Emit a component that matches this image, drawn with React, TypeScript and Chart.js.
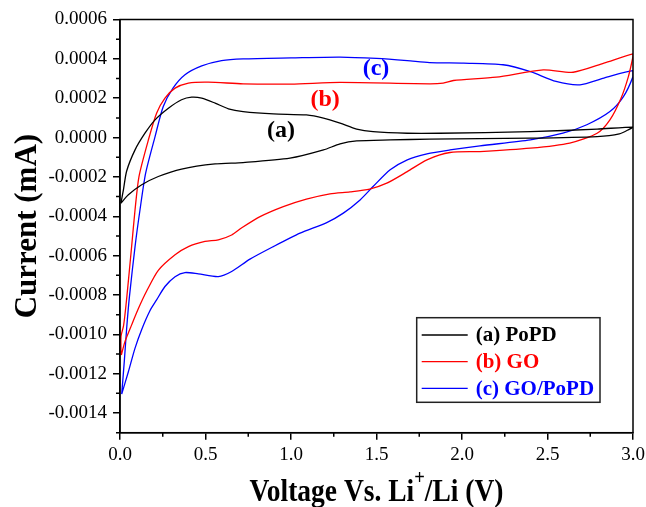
import React, { useEffect, useRef } from 'react';
import { Chart, registerables } from 'chart.js';

Chart.register(...registerables);

// (a) PoPD – closed CV loop (anodic sweep then return)
const popdV = [0.005, 0.02, 0.039, 0.088, 0.146, 0.205, 0.283, 0.36, 0.419, 0.478, 0.556, 0.634, 0.72, 0.897, 1.09, 1.19, 1.287, 1.384, 1.48, 1.68, 1.87, 2.4, 2.79, 3.0,
  2.98, 2.92, 2.79, 2.4, 1.81, 1.58, 1.384, 1.287, 1.19, 0.994, 0.72, 0.556, 0.36, 0.224, 0.127, 0.049, 0.005];
const popdI = [-0.000334, -0.000266, -0.00017, -0.0000625, 0.000022, 0.00009, 0.000149, 0.000192, 0.000205, 0.0002, 0.000175, 0.000146, 0.000132, 0.00012, 0.000115, 0.000099, 0.000073, 0.000043, 0.00003, 0.000022, 0.000022, 0.00003, 0.000043, 0.000053,
  0.000043, 0.000019, 0.000005, -0.000003, -0.000008, -0.000012, -0.000017, -0.000032, -0.000063, -0.000105, -0.000127, -0.000134, -0.00016, -0.000198, -0.00024, -0.000291, -0.000334];

// (b) GO
const goV = [0.006, 0.006, 0.02, 0.029, 0.04, 0.068, 0.088, 0.111, 0.166, 0.214, 0.263, 0.322, 0.4, 0.516, 0.72, 1.0, 1.287, 1.81, 1.89, 1.95, 2.2, 2.475, 2.65, 2.83, 3.0,
  3.0, 2.973, 2.93, 2.865, 2.79, 2.63, 2.4, 2.105, 1.93, 1.795, 1.68, 1.56, 1.46, 1.345, 1.228, 1.09, 0.955, 0.819, 0.71, 0.653, 0.575, 0.497, 0.4, 0.322, 0.224, 0.156, 0.107, 0.068, 0.029, 0.008];
const goI = [-0.001105, -0.00101, -0.00096, -0.0009, -0.00081, -0.000554, -0.000367, -0.000198, -0.000012, 0.000124, 0.0002, 0.000251, 0.000277, 0.000282, 0.000273, 0.000272, 0.00028, 0.000273, 0.000277, 0.00029, 0.000307, 0.000344, 0.000332, 0.000378, 0.000425,
  0.000412, 0.00031, 0.0002, 0.00009, 0.000022, -0.000028, -0.000054, -0.000071, -0.000076, -0.000113, -0.000173, -0.000232, -0.000262, -0.000276, -0.000286, -0.000313, -0.000351, -0.000402, -0.00046, -0.000495, -0.00052, -0.000528, -0.000554, -0.000596, -0.000675, -0.00078, -0.00087, -0.000952, -0.001037, -0.001105];

// (c) GO/PoPD
const goPopdV = [0.01, 0.025, 0.039, 0.055, 0.088, 0.117, 0.15, 0.205, 0.253, 0.31, 0.38, 0.478, 0.594, 0.72, 1.0, 1.287, 1.5, 1.68, 1.81, 2.01, 2.24, 2.4, 2.55, 2.69, 2.83, 3.0,
  3.0, 2.944, 2.865, 2.73, 2.59, 2.4, 2.105, 1.93, 1.795, 1.68, 1.58, 1.48, 1.404, 1.306, 1.209, 1.053, 0.897, 0.76, 0.653, 0.575, 0.458, 0.38, 0.322, 0.263, 0.214, 0.175, 0.127, 0.088, 0.049, 0.01];
const goPopdI = [-0.001304, -0.001139, -0.000969, -0.00081, -0.000554, -0.000367, -0.000181, 0.000005, 0.000158, 0.000251, 0.000319, 0.000364, 0.000391, 0.0004, 0.000405, 0.000409, 0.000402, 0.000391, 0.000381, 0.000378, 0.00037, 0.000335, 0.000285, 0.000268, 0.000302, 0.00034,
  0.00031, 0.000208, 0.000132, 0.000065, 0.000022, -0.000012, -0.000042, -0.000063, -0.000083, -0.000113, -0.000164, -0.000249, -0.000317, -0.000384, -0.000432, -0.000486, -0.000554, -0.000618, -0.000681, -0.000707, -0.000693, -0.000686, -0.000707, -0.000757, -0.000825, -0.00088, -0.000975, -0.00107, -0.00119, -0.001304];

const seriesNames = ['(a) PoPD', '(b) GO', '(c) GO/PoPD'];
const seriesColors = ['#000000', '#ff0000', '#0000ff'];

const xTicks = [0, 0.5, 1.0, 1.5, 2.0, 2.5, 3.0];
const xMinorTicks = [0.25, 0.75, 1.25, 1.75, 2.25, 2.75];
const yTicks = [-0.0014, -0.0012, -0.001, -0.0008, -0.0006, -0.0004, -0.0002, 0, 0.0002, 0.0004, 0.0006];
const yMinorTicks = [-0.0015, -0.0013, -0.0011, -0.0009, -0.0007, -0.0005, -0.0003, -0.0001, 0.0001, 0.0003, 0.0005];

const curveLabels = ['(a)', '(b)', '(c)'];
const curveLabelV = [0.941, 1.2, 1.497];
const curveLabelI = [0.000034, 0.000192, 0.000352];

const xTitleMain = 'Voltage Vs. Li';
const xTitleSup = '+';
const xTitleEnd = '/Li (V)';
const yTitle = 'Current (mA)';

const FONT = '"Liberation Serif", "Times New Roman", serif';

function toPoints(xs: number[], ys: number[]) {
  return xs.map((x, i) => ({ x, y: ys[i] }));
}

const decorPlugin = {
  id: 'decor',
  afterDraw(chart: any) {
    const ctx = chart.ctx as CanvasRenderingContext2D;
    const { left, right, top, bottom } = chart.chartArea;
    const xs = chart.scales.x;
    const ys = chart.scales.y;
    ctx.save();
    // frame
    ctx.strokeStyle = '#000';
    ctx.lineWidth = 1.5;
    ctx.strokeRect(left, top, right - left, bottom - top);
    // minor ticks
    ctx.lineWidth = 1.5;
    ctx.beginPath();
    xMinorTicks.forEach((v) => {
      const px = xs.getPixelForValue(v);
      ctx.moveTo(px, bottom);
      ctx.lineTo(px, bottom + 4);
    });
    yMinorTicks.forEach((v) => {
      const py = ys.getPixelForValue(v);
      ctx.moveTo(left, py);
      ctx.lineTo(left - 4, py);
    });
    ctx.stroke();

    // curve labels
    ctx.font = `bold 24px ${FONT}`;
    ctx.textAlign = 'center';
    ctx.textBaseline = 'middle';
    curveLabels.forEach((t, i) => {
      ctx.fillStyle = seriesColors[i];
      ctx.fillText(t, xs.getPixelForValue(curveLabelV[i]), ys.getPixelForValue(curveLabelI[i]));
    });

    // legend box
    const lx = right - 216.3;
    const ly = bottom - 115;
    const lw = 183.3;
    const lh = 84.6;
    ctx.fillStyle = '#fff';
    ctx.fillRect(lx, ly, lw, lh);
    ctx.strokeStyle = '#222';
    ctx.lineWidth = 1.5;
    ctx.strokeRect(lx, ly, lw, lh);
    ctx.font = `bold 21px ${FONT}`;
    ctx.textAlign = 'left';
    ctx.textBaseline = 'middle';
    seriesNames.forEach((name, i) => {
      const cy = ly + 17.3 + i * 26.7;
      ctx.strokeStyle = seriesColors[i];
      ctx.lineWidth = 1.3;
      ctx.beginPath();
      ctx.moveTo(lx + 5, cy);
      ctx.lineTo(lx + 51, cy);
      ctx.stroke();
      ctx.fillStyle = seriesColors[i];
      ctx.fillText(name, lx + 59, cy + 1);
    });

    // y title
    ctx.fillStyle = '#000';
    ctx.font = `bold 31px ${FONT}`;
    ctx.textAlign = 'center';
    ctx.textBaseline = 'alphabetic';
    ctx.save();
    ctx.translate(36, (top + bottom) / 2);
    ctx.rotate(-Math.PI / 2);
    ctx.fillText(yTitle, 0, 0);
    ctx.restore();

    // x title with superscript
    const mainFont = `bold 31px ${FONT}`;
    const supFont = `bold 21px ${FONT}`;
    ctx.font = mainFont;
    const w1 = ctx.measureText(xTitleMain).width;
    const w3 = ctx.measureText(xTitleEnd).width;
    ctx.font = supFont;
    const w2 = ctx.measureText(xTitleSup).width;
    const total = w1 + w2 + w3;
    const targetW = 254;
    const sx = targetW / total;
    ctx.save();
    ctx.translate((left + right) / 2, 501);
    ctx.scale(sx, 1);
    ctx.textAlign = 'left';
    let x0 = -total / 2;
    ctx.font = mainFont;
    ctx.fillText(xTitleMain, x0, 0);
    x0 += w1;
    ctx.font = supFont;
    ctx.fillText(xTitleSup, x0, -17);
    x0 += w2;
    ctx.font = mainFont;
    ctx.fillText(xTitleEnd, x0, 0);
    ctx.restore();

    ctx.restore();
  },
};

export default function App() {
  const canvasRef = useRef<HTMLCanvasElement | null>(null);

  useEffect(() => {
    const canvas = canvasRef.current;
    if (!canvas) return;
    Chart.defaults.font.family = FONT;
    const data = {
      datasets: [
        { label: seriesNames[0], data: toPoints(popdV, popdI), borderColor: seriesColors[0] },
        { label: seriesNames[1], data: toPoints(goV, goI), borderColor: seriesColors[1] },
        { label: seriesNames[2], data: toPoints(goPopdV, goPopdI), borderColor: seriesColors[2] },
      ].map((d) => ({
        ...d,
        showLine: true,
        pointRadius: 0,
        borderWidth: 1.3,
        tension: 0.25,
        fill: false,
      })),
    };
    const chart = new Chart(canvas, {
      type: 'scatter',
      data,
      options: {
        responsive: false,
        animation: false,
        layout: { padding: { top: 19.5, right: 13, left: 0, bottom: 0 } },
        plugins: { legend: { display: false }, tooltip: { enabled: false }, title: { display: false } },
        scales: {
          x: {
            type: 'linear',
            min: 0,
            max: 3,
            afterBuildTicks: (scale: any) => {
              scale.ticks = xTicks.map((v) => ({ value: v }));
            },
            afterFit: (scale: any) => {
              scale.height = 74.3;
              scale.paddingLeft = 0;
              scale.paddingRight = 0;
            },
            ticks: {
              color: '#000',
              font: { size: 19, family: FONT },
              padding: 4,
              maxRotation: 0,
              callback: (v: any) => Number(v).toFixed(1),
            },
            grid: { drawOnChartArea: false, drawTicks: true, tickLength: 7, color: '#000', lineWidth: 1.5 },
            border: { color: '#000', width: 1.5 },
          },
          y: {
            type: 'linear',
            min: -0.0015,
            max: 0.0006,
            afterBuildTicks: (scale: any) => {
              scale.ticks = yTicks.map((v) => ({ value: v }));
            },
            afterFit: (scale: any) => {
              scale.width = 120;
              scale.paddingTop = 0;
              scale.paddingBottom = 0;
            },
            ticks: {
              color: '#000',
              font: { size: 19, family: FONT },
              padding: 6,
              callback: (v: any) => Number(v).toFixed(4),
            },
            grid: { drawOnChartArea: false, drawTicks: true, tickLength: 7, color: '#000', lineWidth: 1.5 },
            border: { color: '#000', width: 1.5 },
          },
        },
      },
      plugins: [decorPlugin],
    } as any);
    return () => chart.destroy();
  }, []);

  return (
    <div style={{ position: 'fixed', left: 0, top: 0, width: 646, height: 507, background: '#fff' }}>
      <canvas ref={canvasRef} width={646} height={507} style={{ display: 'block' }} />
    </div>
  );
}
